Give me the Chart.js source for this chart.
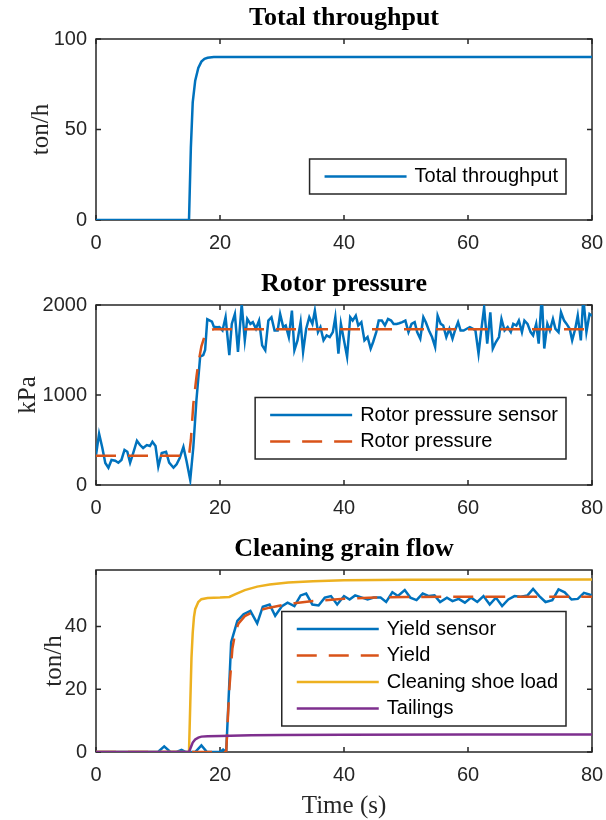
<!DOCTYPE html>
<html>
<head>
<meta charset="utf-8">
<script src="https://cdn.jsdelivr.net/npm/chart.js@4.4.0/dist/chart.umd.min.js"></script>
<style>
  body { margin: 0; background: #fff; }
  canvas { position: absolute; left: 0; }
</style>
</head>
<body>
<canvas id="c1" width="606" height="266" style="top:0px"></canvas>
<canvas id="c2" width="606" height="266" style="top:266px"></canvas>
<canvas id="c3" width="606" height="288" style="top:532px"></canvas>
<script>
// ---- data ----
const xTicks = [0, 20, 40, 60, 80];
const throughputTicks = [0, 50, 100];
const pressureTicks = [0, 1000, 2000];
const flowTicks = [0, 20, 40];

// Total throughput (ton/h)
const throughputT = [0, 15, 15.3, 15.6, 16, 16.5, 17, 17.5, 18, 19, 20, 80];
const throughputV = [0, 0, 40, 65, 77, 84, 87.5, 89, 89.6, 90, 90, 90];

// Rotor pressure sensor (kPa)
const rotorSensorT = [0, 0.5, 1, 1.5, 2, 2.5, 3.1, 3.6, 4.1, 4.6, 5.05, 5.5, 6, 6.6, 7.1, 7.6, 8.2, 8.7, 9.1, 9.6,
  10.05, 10.6, 11.3, 11.8, 12.5, 13, 13.5, 14.1, 14.6, 15.2, 15.7, 16.2, 16.8, 17.3, 17.6, 17.95, 18.7, 19, 19.5,
  19.9, 20.4, 20.9, 21.5, 21.9, 22.4, 22.9, 23.5, 24, 24.4, 24.9, 25.3, 25.8, 26.3, 26.8, 27.3, 27.8, 28.3, 28.8, 29.3,
  29.7, 30.2, 30.6, 31.1, 31.6, 32, 32.5, 33, 33.4, 33.9, 34.4, 34.9, 35.3, 35.8, 36.2, 36.7, 37.2, 37.7, 38.2, 38.6,
  39.1, 39.5, 40, 40.5, 41, 41.4, 41.9, 42.3, 42.8, 43.3, 43.8, 44.3, 44.7, 45.2, 45.6, 46.1, 46.6, 47.1, 47.6, 48,
  48.5, 48.9, 49.4, 49.9, 50.4, 50.9, 51.4, 51.8, 52.3, 52.8, 53.2, 53.7, 54.2, 54.7, 55.1, 55.6, 56, 56.5, 57, 57.5,
  57.9, 58.4, 58.8, 59.3, 59.8, 60.3, 60.8, 61.2, 61.7, 62.1, 62.6, 63.1, 63.6, 64, 64.5, 65, 65.4, 65.9, 66.4, 66.9,
  67.3, 67.8, 68.2, 68.7, 69.1, 69.6, 70.1, 70.5, 71, 71.4, 71.9, 72.3, 72.8, 73.2, 73.7, 74.1, 74.6, 75, 75.5, 75.9,
  76.4, 76.8, 77.3, 77.7, 78.2, 78.6, 79.1, 79.6, 80];
const rotorSensorV = [333, 570, 420, 244, 192, 278, 270, 248, 278, 389, 370, 248, 355, 492, 444, 411, 444, 433, 481, 433,
  204, 355, 370, 248, 192, 229, 300, 422, 266, 56, 422, 944, 1426, 1444, 1500, 1841, 1815, 1759, 1752,
  1754, 1717, 1864, 1442, 1790, 1900, 1479, 2010, 1607, 1845, 1790, 1809, 1736, 1827, 1552, 1497, 1827, 1864, 1717, 1717,
  1900, 1754, 1772, 1644, 1937, 1497, 1607, 1809, 1479, 1736, 1864, 1790, 1937, 1699, 1754, 1607, 1662, 1644, 1699, 1864,
  1460, 1790, 1607, 1424, 1864, 1827, 1882, 1772, 1809, 1607, 1644, 1516, 1589, 1699, 1827, 1827, 1772, 1845, 1827, 1790,
  1790, 1798, 1809, 1827, 1699, 1790, 1809, 1699, 1626, 1864, 1809, 1717, 1644, 1534, 1882, 1790, 1772, 1644, 1736, 1626,
  1717, 1809, 1717, 1717, 1736, 1754, 1736, 1717, 1460, 1699, 1974, 1571, 1919, 1516, 1589, 1644, 1845, 1717, 1754, 1699,
  1790, 1772, 1827, 1699, 1827, 1790, 1699, 1662, 1790, 1571, 2103, 1516, 1790, 1717, 1845, 1736, 1699, 1919, 1827, 1790,
  1736, 1607, 1736, 1882, 1607, 2085, 1699, 1900, 1880];

// Rotor pressure (kPa)
const rotorT = [0, 15, 15.3, 15.7, 16.2, 16.5, 17, 17.5, 18, 18.5, 19, 80];
const rotorV = [325, 325, 500, 900, 1200, 1350, 1540, 1650, 1700, 1720, 1730, 1730];

// Yield sensor (ton/h)
const yieldSensorT = [0, 10, 11, 12, 13, 13.8, 14.5, 16, 17, 17.9, 20, 20.5, 21, 21.8, 22.8, 23.8, 24.9, 26, 26.9, 28,
  28.9, 30, 30.9, 32, 33, 33.9, 34.9, 35.9, 36.9, 37.9, 38.9, 40, 40.9, 41.8, 42.9, 43.8, 44.8, 45.9, 46.8, 47.8,
  48.7, 49.8, 50.7, 51.7, 52.7, 53.7, 54.6, 55.5, 56.6, 57.5, 58.5, 59.5, 60.5, 61.5, 62.5, 63.5, 64.5, 65.5, 66.5,
  67.5, 68.5, 69.6, 70.5, 71.5, 72.5, 73.6, 74.6, 75.6, 76.7, 77.7, 78.7, 79.7, 80];
const yieldSensorV = [0, 0, 1.8, 0, 0, 0.7, 0, 0, 2.1, 0, 0, 0.8, 0, 35, 41.8, 43.9, 45, 41, 46.3, 47,
  43.4, 46.5, 47.6, 46.5, 49.9, 50.5, 47, 46.7, 49.2, 49.7, 47, 49.7, 48.6, 49.9, 49.2, 48.6, 49.2, 49.2, 47.8, 50.9,
  49.7, 51.6, 49.2, 48.4, 50.5, 49.7, 49.9, 47.8, 49.2, 48.1, 48.8, 47.6, 49.2, 47.8, 49.7, 47, 49.2, 46.5, 48.6,
  49.7, 49.5, 49.9, 52, 49.7, 47.8, 48.4, 51.8, 50.9, 48.6, 48.8, 50.7, 50.1, 50];

// Yield (ton/h)
const yieldT = [0, 21, 21.5, 22, 22.5, 23, 24, 25, 26, 28, 30, 32, 35, 40, 45, 50, 60, 80];
const yieldV = [0, 0, 20, 33, 38.5, 41, 43.3, 44.3, 45, 46, 46.8, 47.4, 48.1, 48.8, 49.2, 49.4, 49.5, 49.5];

// Cleaning shoe load (ton/h)
const shoeT = [0, 15, 15.2, 15.4, 15.6, 15.8, 16, 16.5, 17, 18, 20, 21.5, 22.5, 24, 26, 28, 31, 35, 40, 50, 80];
const shoeV = [0, 0, 15, 30, 38, 43, 45.5, 47.8, 48.7, 49.1, 49.2, 49.4, 50.3, 51.6, 52.7, 53.4, 54, 54.4, 54.7, 54.9, 55];

// Tailings (ton/h)
const tailingsT = [0, 15, 15.3, 15.6, 16, 16.5, 17, 18, 20, 25, 30, 40, 60, 80];
const tailingsV = [0, 0, 1.5, 3, 4, 4.6, 4.9, 5, 5.1, 5.3, 5.4, 5.5, 5.6, 5.6];

// ---- styling ----
const BLUE = '#0072BD', ORANGE = '#D95319', YELLOW = '#EDB120', PURPLE = '#7E2F8E';
const AXIS = '#262626';
const SANS = '"Liberation Sans", Arial, sans-serif';
const SERIF = '"Liberation Serif", "Times New Roman", serif';
const DASH = [20, 12];

function pts(t, v) {
  return t.map((x, i) => ({ x: x, y: v[i] }));
}

function line(label, t, v, color, order, dash) {
  return {
    label: label, data: pts(t, v), borderColor: color, backgroundColor: color,
    borderWidth: 2.5, borderDash: dash || [], pointRadius: 0, tension: 0, fill: false, order: order
  };
}

// MATLAB style box with inward ticks on all four sides, plus the axes title
const matlabAxes = {
  id: 'matlabAxes',
  beforeDatasetsDraw(chart, args, opts) {
    const { ctx, chartArea: a, scales: { x, y } } = chart;
    ctx.save();
    ctx.strokeStyle = AXIS;
    ctx.lineWidth = 1.5;
    ctx.strokeRect(a.left, a.top, a.right - a.left, a.bottom - a.top);
    ctx.beginPath();
    x.ticks.forEach(t => {
      const px = x.getPixelForValue(t.value);
      ctx.moveTo(px, a.bottom); ctx.lineTo(px, a.bottom - 5);
      ctx.moveTo(px, a.top); ctx.lineTo(px, a.top + 5);
    });
    y.ticks.forEach(t => {
      const py = y.getPixelForValue(t.value);
      ctx.moveTo(a.left, py); ctx.lineTo(a.left + 5, py);
      ctx.moveTo(a.right, py); ctx.lineTo(a.right - 5, py);
    });
    ctx.stroke();
    // title centred over the axes box
    ctx.fillStyle = '#000';
    ctx.font = 'bold 26px ' + SERIF;
    ctx.textAlign = 'center';
    ctx.textBaseline = 'middle';
    ctx.fillText(opts.title, (a.left + a.right) / 2, a.top - 21);
    ctx.restore();
  }
};

// legend box in the lower right corner of the axes
const boxLegend = {
  id: 'boxLegend',
  afterDatasetsDraw(chart) {
    const { ctx, chartArea: a } = chart;
    const sets = chart.data.datasets;
    ctx.save();
    ctx.font = '20px ' + SANS;
    const textW = Math.max(...sets.map(d => ctx.measureText(d.label).width));
    const rowH = 26.5, lineLen = 82;
    const w = 15 + lineLen + 8 + textW + 8;
    const h = 8.5 + sets.length * rowH;
    const x0 = a.right - 26 - w, y0 = a.bottom - 26 - h;
    ctx.fillStyle = '#fff';
    ctx.fillRect(x0, y0, w, h);
    ctx.strokeStyle = AXIS;
    ctx.lineWidth = 1.5;
    ctx.strokeRect(x0, y0, w, h);
    sets.forEach((d, i) => {
      const cy = y0 + 17.5 + i * rowH;
      ctx.strokeStyle = d.borderColor;
      ctx.lineWidth = d.borderWidth;
      ctx.setLineDash(d.borderDash);
      ctx.beginPath();
      ctx.moveTo(x0 + 15, cy);
      ctx.lineTo(x0 + 15 + lineLen, cy);
      ctx.stroke();
      ctx.setLineDash([]);
      ctx.fillStyle = '#000';
      ctx.textBaseline = 'middle';
      ctx.fillText(d.label, x0 + 15 + lineLen + 8, cy);
    });
    ctx.restore();
  }
};

function options(o) {
  const tickFont = { family: SANS, size: 20 };
  return {
    responsive: false,
    animation: false,
    devicePixelRatio: 1,
    layout: { padding: { left: 0, right: 14, top: o.top, bottom: 0 } },
    plugins: {
      legend: { display: false },
      tooltip: { enabled: false },
      title: { display: false },
      matlabAxes: { title: o.title }
    },
    scales: {
      x: {
        type: 'linear', min: 0, max: 80,
        afterFit: s => { s.height = o.xHeight; s.paddingLeft = 0; s.paddingRight = 0; },
        afterBuildTicks: s => { s.ticks = xTicks.map(v => ({ value: v })); },
        grid: { display: false, drawTicks: false }, border: { display: false },
        ticks: { padding: 11, color: AXIS, font: tickFont, maxRotation: 0, callback: v => String(v) },
        title: {
          display: !!o.xLabel, text: o.xLabel, color: AXIS,
          font: { family: SERIF, size: 25, lineHeight: 1 }, padding: { top: 0, bottom: 1 }
        }
      },
      y: {
        type: 'linear', min: 0, max: o.yMax,
        afterFit: s => { s.width = 96; s.paddingTop = 0; s.paddingBottom = 0; },
        afterBuildTicks: s => { s.ticks = o.yTicks.map(v => ({ value: v })); },
        grid: { display: false, drawTicks: false }, border: { display: false },
        ticks: { padding: 9, color: AXIS, font: tickFont, callback: v => String(v) },
        title: {
          display: true, text: o.yLabel, color: AXIS,
          font: { family: SERIF, size: 25 }, padding: { top: o.yTitlePad, bottom: 0 }
        }
      }
    }
  };
}

new Chart(document.getElementById('c1'), {
  type: 'line',
  data: { datasets: [line('Total throughput', throughputT, throughputV, BLUE, 1)] },
  options: options({ title: 'Total throughput', top: 39, xHeight: 46, yMax: 100, yTicks: throughputTicks, yLabel: 'ton/h', yTitlePad: 26 }),
  plugins: [matlabAxes, boxLegend]
});

new Chart(document.getElementById('c2'), {
  type: 'line',
  data: {
    datasets: [
      line('Rotor pressure sensor', rotorSensorT, rotorSensorV, BLUE, 2),
      line('Rotor pressure', rotorT, rotorV, ORANGE, 1, DASH)
    ]
  },
  options: options({ title: 'Rotor pressure', top: 39, xHeight: 47, yMax: 2000, yTicks: pressureTicks, yLabel: 'kPa', yTitlePad: 13 }),
  plugins: [matlabAxes, boxLegend]
});

new Chart(document.getElementById('c3'), {
  type: 'line',
  data: {
    datasets: [
      line('Yield sensor', yieldSensorT, yieldSensorV, BLUE, 4),
      line('Yield', yieldT, yieldV, ORANGE, 3, DASH),
      line('Cleaning shoe load', shoeT, shoeV, YELLOW, 2),
      line('Tailings', tailingsT, tailingsV, PURPLE, 1)
    ]
  },
  options: options({ title: 'Cleaning grain flow', top: 38, xHeight: 68, yMax: 58, yTicks: flowTicks, yLabel: 'ton/h', yTitlePad: 39, xLabel: 'Time (s)' }),
  plugins: [matlabAxes, boxLegend]
});
</script>
</body>
</html>
